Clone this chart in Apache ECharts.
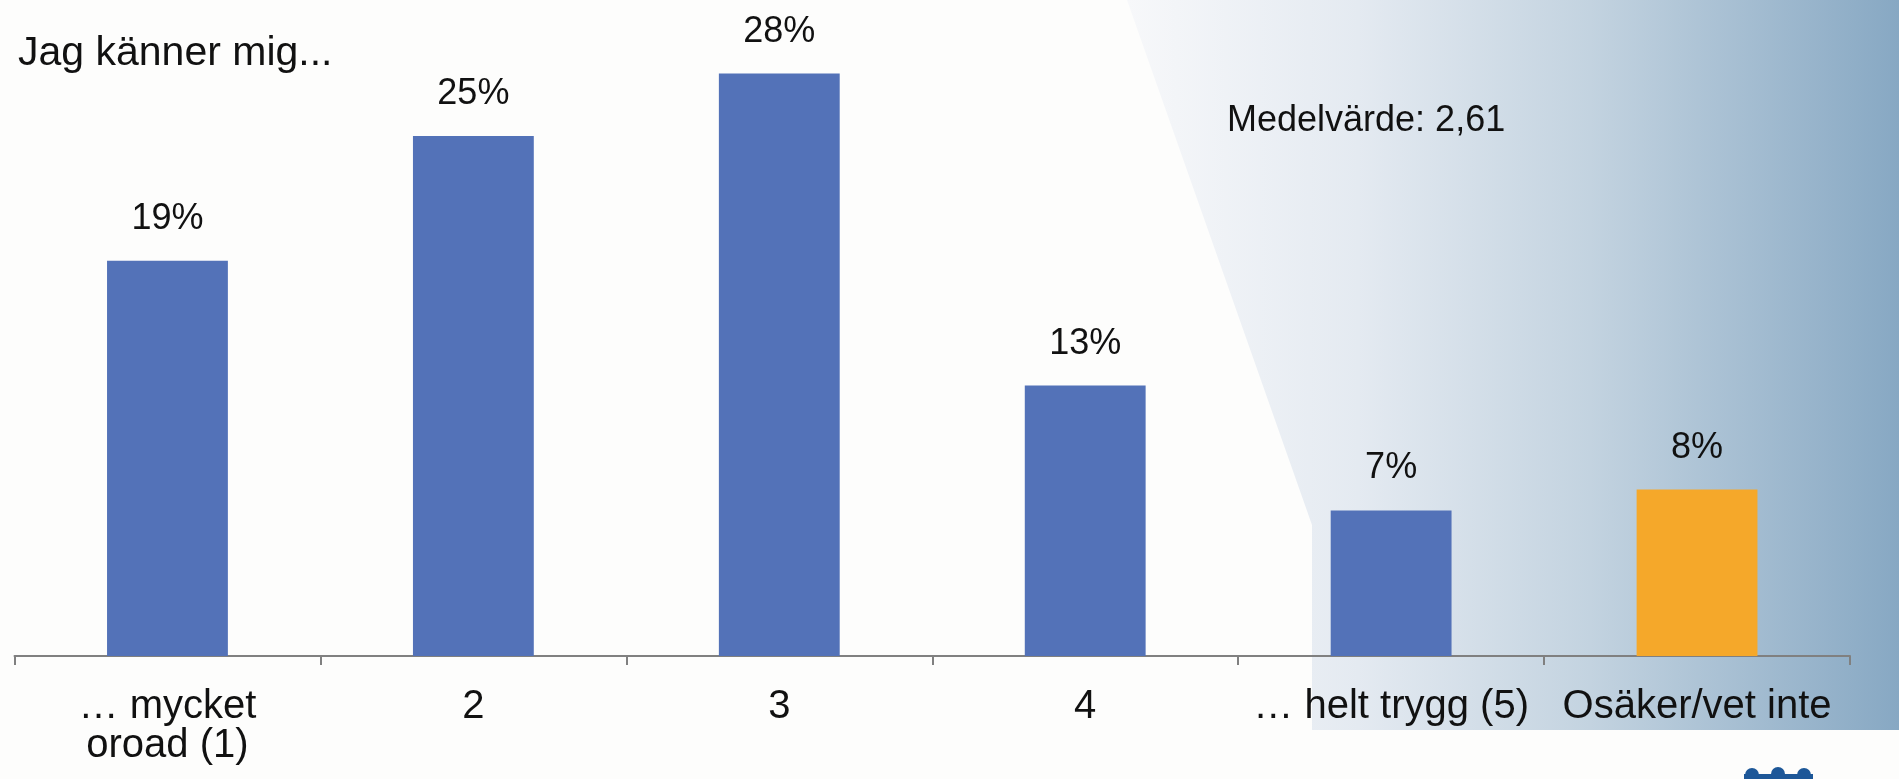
<!DOCTYPE html>
<html>
<head>
<meta charset="utf-8">
<script src="https://cdn.jsdelivr.net/npm/echarts@6/dist/echarts.min.js"></script>
<style>
html,body{margin:0;padding:0;background:#fdfdfc;}
#c{width:1899px;height:779px;}
</style>
</head>
<body>
<div id="c"></div>
<script>
const categories = ['… mycket\noroad (1)', '2', '3', '4', '… helt trygg (5)', 'Osäker/vet inte'];
const values = [19, 25, 28, 13, 7, 8];
const barColors = ['#5372b8', '#5372b8', '#5372b8', '#5372b8', '#5372b8', '#f5a82a'];
const titleText = 'Jag känner mig...';
const meanText = 'Medelvärde: 2,61';

const chart = echarts.init(document.getElementById('c'));
const FONT = '"Liberation Sans", Arial, Helvetica, sans-serif';

chart.setOption({
  backgroundColor: '#fdfdfc',
  animation: false,
  title: [
    { text: titleText, left: 18, top: 33, padding: 0,
      textStyle: { fontSize: 41, fontWeight: 'normal', color: '#111', fontFamily: FONT } },
    { text: meanText, left: 1227, top: 103, padding: 0,
      textStyle: { fontSize: 36, fontWeight: 'normal', color: '#111', fontFamily: FONT } }
  ],
  graphic: [
    {
      type: 'polygon', z: -100, silent: true,
      shape: { points: [[1127, 0], [1899, 0], [1899, 730], [1312, 730], [1312, 525]] },
      style: {
        fill: new echarts.graphic.LinearGradient(0, 0, 1, 0, [
          { offset: 0, color: '#f7f8fa' },
          { offset: 0.3, color: '#e4eaf1' },
          { offset: 0.6, color: '#c3d3e0' },
          { offset: 1, color: '#87a8c3' }
        ])
      }
    },
    { type: 'rect', z: -50, silent: true, shape: { x: 1744, y: 774, width: 69, height: 5 }, style: { fill: '#1d5798' } },
    { type: 'circle', z: -50, silent: true, shape: { cx: 1752, cy: 775, r: 7 }, style: { fill: '#1d5798' } },
    { type: 'circle', z: -50, silent: true, shape: { cx: 1778, cy: 774, r: 7 }, style: { fill: '#1d5798' } },
    { type: 'circle', z: -50, silent: true, shape: { cx: 1804, cy: 775, r: 7 }, style: { fill: '#1d5798' } }
  ],
  grid: { left: 14.5, right: 49, top: 32, bottom: 123 },
  xAxis: {
    type: 'category',
    data: categories,
    axisLine: { lineStyle: { color: '#808080', width: 2 } },
    axisTick: { show: true, length: 9, lineStyle: { color: '#808080', width: 2 } },
    axisLabel: {
      interval: 0, margin: 31, fontSize: 40, lineHeight: 39,
      color: '#111', fontFamily: FONT, hideOverlap: false
    }
  },
  yAxis: {
    type: 'value', min: 0, max: 30, show: false,
    splitLine: { show: false }
  },
  series: [{
    type: 'bar',
    barWidth: '39.5%',
    data: values.map((v, i) => ({ value: v, itemStyle: { color: barColors[i] } })),
    label: {
      show: true, position: 'top', distance: 24,
      formatter: '{c}%', fontSize: 36, color: '#111', fontFamily: FONT
    }
  }]
});
</script>
</body>
</html>
